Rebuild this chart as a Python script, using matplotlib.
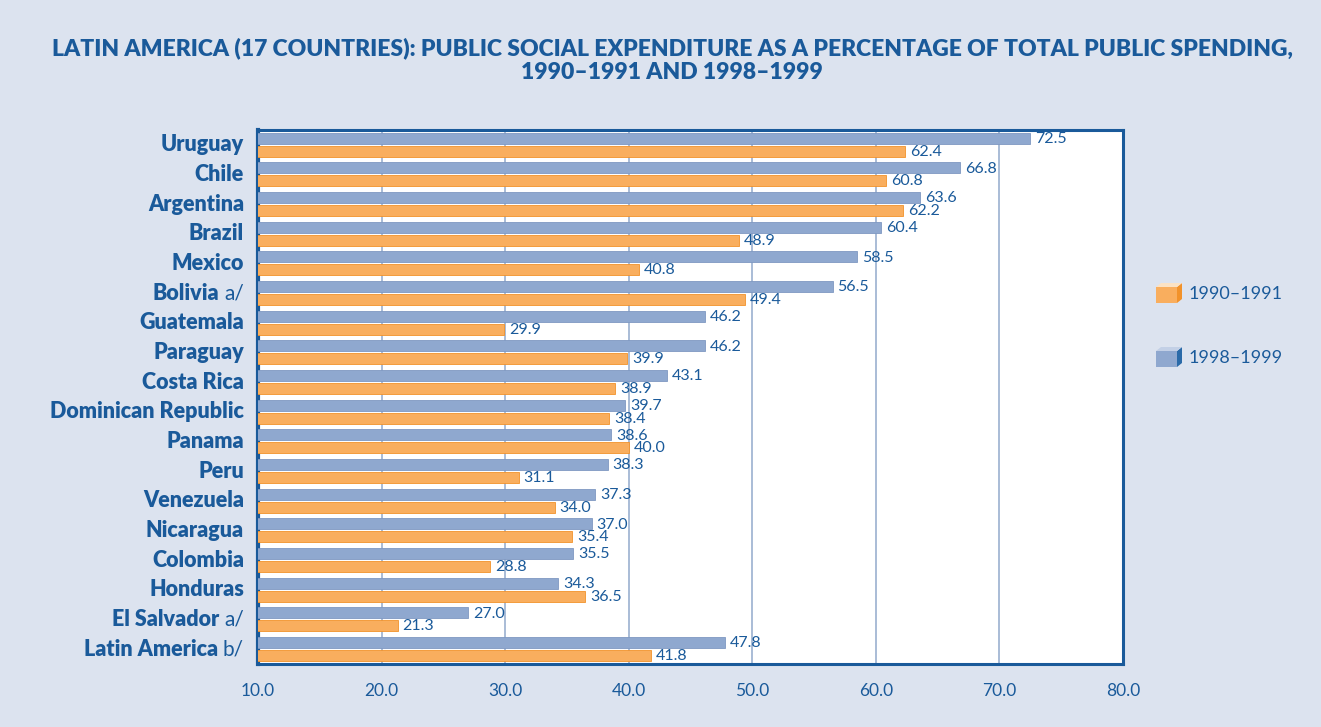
import numpy as np
import matplotlib.pyplot as plt
from matplotlib.patches import Rectangle, Polygon

plt.rcParams["font.family"] = ["Lato", "DejaVu Sans"]

# Country names and footnote markers
countries = ["Uruguay", "Chile", "Argentina", "Brazil", "Mexico", "Bolivia",
             "Guatemala", "Paraguay", "Costa Rica", "Dominican Republic",
             "Panama", "Peru", "Venezuela", "Nicaragua", "Colombia",
             "Honduras", "El Salvador", "Latin America"]
notes = ["", "", "", "", "", "a/", "", "", "", "", "", "", "", "", "", "",
         "a/", "b/"]

# Public social expenditure, % of total public spending
y1998 = [72.5, 66.8, 63.6, 60.4, 58.5, 56.5, 46.2, 46.2, 43.1, 39.7,
         38.6, 38.3, 37.3, 37.0, 35.5, 34.3, 27.0, 47.8]
y1990 = [62.4, 60.8, 62.2, 48.9, 40.8, 49.4, 29.9, 39.9, 38.9, 38.4,
         40.0, 31.1, 34.0, 35.4, 28.8, 36.5, 21.3, 41.8]

xticks = [10, 20, 30, 40, 50, 60, 70, 80]

navy = "#1A5A9A"
bg = "#DCE3EF"
orange = "#F9AE5E"
orange_dark = "#F2922A"
blue = "#8FA8CF"
blue_dark = "#2A6AA8"

fig = plt.figure(figsize=(13.21, 7.27), dpi=100, facecolor=bg)
ax = fig.add_axes([0.1953, 0.0867, 0.6548, 0.7345])
ax.set_facecolor("white")

pos = np.arange(len(countries))
h = 0.37
ax.barh(pos - 0.22, y1998, height=h, color=blue, edgecolor="#7F98C2",
        linewidth=0.6, zorder=3)
ax.barh(pos + 0.21, y1990, height=h, color=orange, edgecolor=orange_dark,
        linewidth=0.6, zorder=3)

# value labels
for i in range(len(countries)):
    ax.text(y1998[i] + 0.4, pos[i] - 0.2, f"{y1998[i]:.1f}", color=navy,
            fontsize=11.5, va="center", ha="left", zorder=4)
    ax.text(y1990[i] + 0.4, pos[i] + 0.23, f"{y1990[i]:.1f}", color=navy,
            fontsize=11.5, va="center", ha="left", zorder=4)

ax.set_xlim(10, 80)
ax.set_ylim(len(countries) - 0.5, -0.5)
ax.set_xticks(xticks)
ax.set_xticklabels([f"{t:.1f}" for t in xticks], color=navy, fontsize=12.5)
ax.tick_params(axis="x", length=0, pad=14)
ax.set_yticks([])
ax.grid(axis="x", color="#9BB0D0", linewidth=1.2, zorder=0)
for side, sp in ax.spines.items():
    sp.set_color(navy)
    sp.set_linewidth(2.2)
ax.spines["left"].set_linewidth(3)

# category labels: bold name + regular footnote marker
fig.canvas.draw()
renderer = fig.canvas.get_renderer()
inv = ax.transAxes.inverted()
x_right = (244 - 258) / (0.6548 * 1321)
for i, name in enumerate(countries):
    yc = pos[i]
    xr = x_right
    if notes[i]:
        t = ax.text(xr, yc, notes[i], transform=ax.get_yaxis_transform(),
                    ha="right", va="center", color=navy, fontsize=15,
                    clip_on=False)
        bb = t.get_window_extent(renderer)
        xr = inv.transform((bb.x0 - 5, 0))[0]
    ax.text(xr, yc, name, transform=ax.get_yaxis_transform(), ha="right",
            va="center", color=navy, fontsize=15.5, fontweight="heavy",
            clip_on=False)

fig.text(0.5087, 0.917,
         "LATIN AMERICA (17 COUNTRIES): PUBLIC SOCIAL EXPENDITURE AS A PERCENTAGE OF TOTAL PUBLIC SPENDING,\n1990\u20131991 AND 1998\u20131999",
         ha="center", va="center", color=navy, fontsize=16.5,
         fontweight="heavy", linespacing=1.2)

# legend with small 3D boxes
W, H = 1321, 727
def box(x, y, w, hgt, face, side):
    fx, fy = x / W, 1 - (y + hgt) / H
    fig.patches.append(Rectangle((fx, fy), w / W, hgt / H, facecolor=face,
                                 edgecolor="none", transform=fig.transFigure))
    d = 5
    pts = [(x + w, y + hgt), (x + w, y), (x + w + d, y - 4), (x + w + d, y + hgt - 4)]
    fig.patches.append(Polygon([(px / W, 1 - py / H) for px, py in pts],
                               facecolor=side, edgecolor="none",
                               transform=fig.transFigure))
    top = [(x, y), (x + w, y), (x + w + d, y - 4), (x + d, y - 4)]
    fig.patches.append(Polygon([(px / W, 1 - py / H) for px, py in top],
                               facecolor="#FBE2C4" if face == orange else "#C3D0E6",
                               edgecolor="none", transform=fig.transFigure))

box(1156, 287, 21, 16, orange, orange_dark)
box(1156, 351, 21, 16, blue, blue_dark)
fig.text(1189 / W, 1 - 294 / H, "1990\u20131991", color=navy, fontsize=13,
         va="center", ha="left")
fig.text(1189 / W, 1 - 358 / H, "1998\u20131999", color=navy, fontsize=13,
         va="center", ha="left")

fig.savefig("out.png", dpi=100, facecolor=bg)
